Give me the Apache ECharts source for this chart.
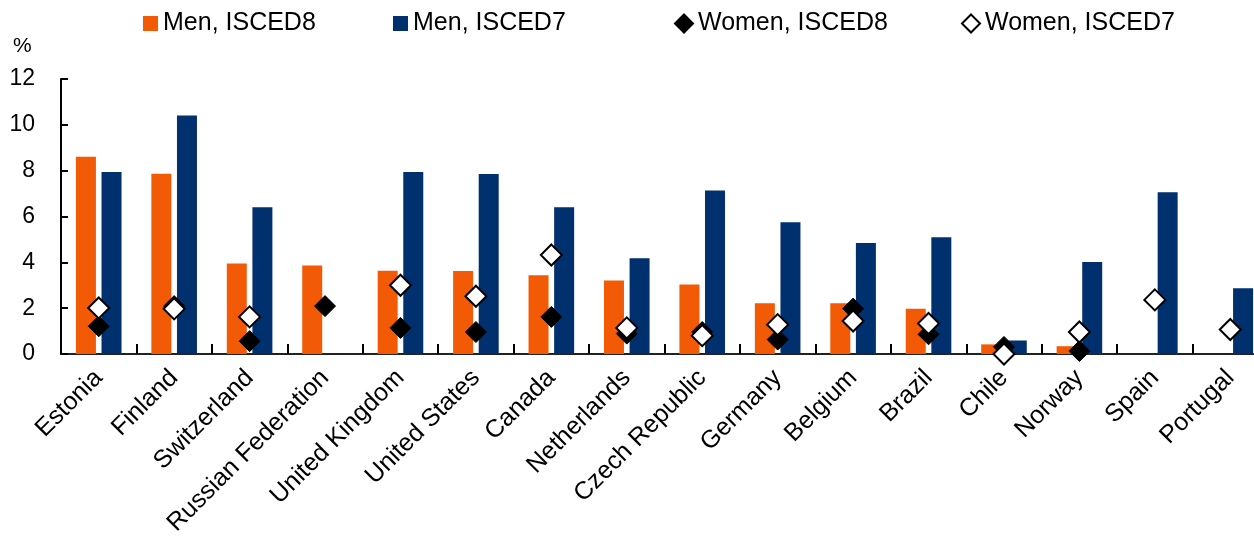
<!DOCTYPE html>
<html>
<head>
<meta charset="utf-8">
<script src="https://cdn.jsdelivr.net/npm/echarts@6/dist/echarts.min.js"></script>
<style>
html,body{margin:0;padding:0;background:#fff;}
#chart{width:1254px;height:536px;}
</style>
</head>
<body>
<div id="chart"></div>
<script>
const categories = ['Estonia','Finland','Switzerland','Russian Federation','United Kingdom','United States','Canada','Netherlands','Czech Republic','Germany','Belgium','Brazil','Chile','Norway','Spain','Portugal'];
const menISCED8   = [8.61, 7.87, 3.95, 3.86, 3.63, 3.62, 3.44, 3.21, 3.03, 2.22, 2.22, 1.98, 0.42, 0.34, null, null];
const menISCED7   = [7.94, 10.41, 6.40, null, 7.94, 7.86, 6.40, 4.18, 7.13, 5.75, 4.84, 5.09, 0.59, 4.02, 7.06, 2.87];
const womenISCED8 = [1.21, 2.09, 0.56, 2.09, 1.14, 0.96, 1.62, 0.89, 0.96, 0.63, 1.98, 0.86, 0.31, 0.13, null, null];
const womenISCED7 = [2.01, 1.97, 1.62, null, 3.00, 2.52, 4.32, 1.14, 0.80, 1.28, 1.44, 1.33, 0.00, 0.96, 2.36, 1.07];
const yTicks = [0, 2, 4, 6, 8, 10, 12];

const FONT = '"Liberation Sans", Arial, sans-serif';
const ORANGE = '#F25A05';
const NAVY = '#00306E';

const chart = echarts.init(document.getElementById('chart'), null, {renderer: 'canvas'});
const legendText = {fontFamily: FONT, fontSize: 25, color: '#000'};
chart.setOption({
  animation: false,
  backgroundColor: '#fff',
  grid: {left: 61, width: 1207, top: 79, height: 275, containLabel: false, outerBoundsMode: 'none'},
  legend: [
    {data: ['Men, ISCED8'], left: 138, top: 6, itemWidth: 15, itemHeight: 15, itemGap: 0, textStyle: legendText, icon: 'rect'},
    {data: ['Men, ISCED7'], left: 388, top: 6, itemWidth: 15, itemHeight: 15, itemGap: 0, textStyle: legendText, icon: 'rect'},
    {data: ['Women, ISCED8'], left: 669, top: 6, itemWidth: 18, itemHeight: 18, itemGap: 0, textStyle: legendText, icon: 'diamond'},
    {data: ['Women, ISCED7'], left: 956, top: 6, itemWidth: 18, itemHeight: 18, itemGap: 0, textStyle: legendText, icon: 'diamond'}
  ],
  graphic: [
    {type: 'text', left: 13, top: 36, style: {text: '%', fontFamily: FONT, fontSize: 21, fill: '#000'}}
  ],
  xAxis: {
    type: 'category',
    data: categories,
    boundaryGap: true,
    axisLine: {show: true, lineStyle: {color: '#222', width: 2}},
    axisTick: {show: true, inside: true, length: 10, lineStyle: {color: '#000', width: 2}},
    axisLabel: {rotate: 45, interval: 0, margin: 20, fontFamily: FONT, fontSize: 25, color: '#000'},
    splitLine: {show: false}
  },
  yAxis: {
    type: 'value',
    min: 0, max: 12, interval: 2,
    axisLine: {show: true, lineStyle: {color: '#000', width: 2}},
    axisTick: {show: true, inside: true, length: 7, lineStyle: {color: '#000', width: 2}},
    axisLabel: {margin: 26, fontFamily: FONT, fontSize: 23, color: '#000',
      formatter: v => yTicks.includes(v) ? String(v) : ''},
    splitLine: {show: false}
  },
  series: [
    {name: 'Men, ISCED8', type: 'bar', data: menISCED8, barWidth: 20, barGap: '28%',
     itemStyle: {color: ORANGE}, z: 2},
    {name: 'Men, ISCED7', type: 'bar', data: menISCED7, barWidth: 20, barGap: '28%',
     itemStyle: {color: NAVY}, z: 2},
    {name: 'Women, ISCED8', type: 'scatter', data: womenISCED8, symbol: 'diamond', symbolSize: 21,
     itemStyle: {color: '#000', borderColor: '#000', borderWidth: 1, opacity: 1}, z: 5},
    {name: 'Women, ISCED7', type: 'scatter', data: womenISCED7, symbol: 'diamond', symbolSize: 21,
     itemStyle: {color: '#fff', borderColor: '#000', borderWidth: 2, opacity: 1}, z: 6}
  ]
});
</script>
</body>
</html>
